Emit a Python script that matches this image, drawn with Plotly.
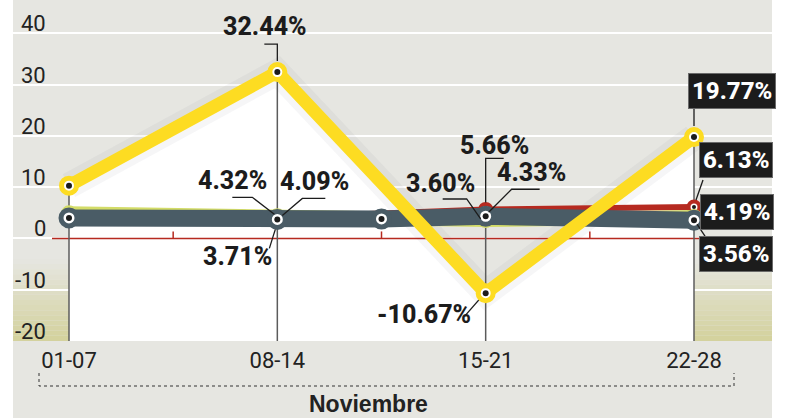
import plotly.graph_objects as go

# ---------------- data ----------------
categories = ["01-07", "08-14", "15-21", "22-28"]
axis_title = "Noviembre"

yellow_vals = [10.3, 32.44, -10.67, 19.77]
red_vals = [None, 4.09, 5.66, 6.13]
green_vals = [4.9, 4.32, 3.60, 4.19]
dark_x = [0, 1, 1.5, 2, 3]
dark_vals = [4.0, 3.71, 3.8, 4.33, 3.56]

y_ticks = [40, 30, 20, 10, 0, -10, -20]

label_yellow = ["", "32.44%", "-10.67%", "19.77%"]
label_red = ["", "4.09%", "5.66%", "6.13%"]
label_green = ["", "4.32%", "3.60%", "4.19%"]
label_dark = ["", "3.71%", "4.33%", "3.56%"]

# ---------------- layout constants ----------------
W, H = 787, 418
ML, MR, MT, MB = 13, 15, 0, 77
PW, PH = W - ML - MR, H - MT - MB
CAT_L, CAT_R = 56, 78
UNIT = (PW - CAT_L - CAT_R) / (len(categories) - 1)
XMIN, XMAX = -CAT_L / UNIT, (len(categories) - 1) + CAT_R / UNIT
YMIN, YMAX = -20, 46.5
PXY = PH / (YMAX - YMIN)

def px_x(px):
    return XMIN + (px - ML) / UNIT

def paper_x(px):
    return (px - ML) / PW

def paper_y(py):
    return (MT + PH - py) / PH

BG = "#e6e6e1"
YELLOW = "#fddc22"
GREEN = "#d3dc68"
DARK = "#4a5c66"
RED = "#b62a20"
INK = "#1c1c1c"
COND = "Roboto, sans-serif"
SANS = "Liberation Sans, Arial, sans-serif"

cat_x = list(range(len(categories)))
fig = go.Figure()

fig.add_trace(go.Scatter(x=cat_x + [cat_x[-1], cat_x[0]],
                         y=yellow_vals + [YMIN, YMIN],
                         fill="toself", fillcolor="white", mode="lines",
                         line=dict(width=0), hoverinfo="skip"))
fig.add_trace(go.Scatter(x=cat_x, y=yellow_vals, mode="lines",
                         line=dict(color="rgba(70,70,95,0.05)", width=26),
                         hoverinfo="skip"))

fig.add_trace(go.Scatter(x=[px_x(52), XMAX], y=[0, 0], mode="lines",
                         line=dict(color=RED, width=1.5), hoverinfo="skip"))
tx, ty = [], []
for i in range(len(categories) - 1):
    m = i + 0.5
    tx += [m, m, None]
    ty += [0, 7 / PXY, None]
fig.add_trace(go.Scatter(x=tx, y=ty, mode="lines",
                         line=dict(color=RED, width=1.5), hoverinfo="skip"))

vx, vy = [], []
for i in cat_x:
    top = max(v for v in (yellow_vals[i], red_vals[i], green_vals[i]) if v is not None)
    vx += [i, i, None]
    vy += [YMIN, top, None]
fig.add_trace(go.Scatter(x=vx, y=vy, mode="lines",
                         line=dict(color="#5c5c5c", width=1.5), hoverinfo="skip"))

def series(x, y, color, width, msize, mline, dot):
    fig.add_trace(go.Scatter(x=x, y=y, mode="lines+markers",
                             line=dict(color=color, width=width),
                             marker=dict(size=msize, color="white",
                                         line=dict(color=color, width=mline)),
                             hoverinfo="skip"))
    fig.add_trace(go.Scatter(x=x, y=y, mode="markers",
                             marker=dict(size=dot, color=INK),
                             hoverinfo="skip"))

series(cat_x, red_vals, RED, 6, 11, 4, 4)
series(cat_x, green_vals, GREEN, 14, 12, 4, 4)
series(dark_x, dark_vals, DARK, 17, 16, 5, 6)
series(cat_x, yellow_vals, YELLOW, 13, 15, 5, 6)

label_style = {
    ("y", 1): (-12, 46, [(0, 11), (0, 28), (-13, 28)], False),
    ("y", 2): (-62, -21, [(-7, -7), (-21, -23)], False),
    ("y", 3): (38, 46, [(0, 11), (0, 28)], True),
    ("g", 1): (-45, 36, [(-3, 2), (-25, 19), (-45, 19)], False),
    ("r", 1): (37, 36, [(5, 2), (25, 19), (48, 19)], False),
    ("d", 1): (-40, -37, [(-2, -10), (-8, -29)], False),
    ("g", 2): (-45, 36, [(-5, 1), (-19, 21), (-43, 21)], False),
    ("r", 2): (9, 64, [(0, 7), (0, 51), (18, 51)], False),
    ("d", 2): (46, 44, [(3, 4), (26, 27), (54, 27)], False),
    ("r", 3): (42, 47, [(2, 7), (9, 27)], True),
    ("g", 3): (43, 5, [], True),
    ("d", 3): (42, -34, [(3, -4), (11, -16)], True),
}
label_sets = {"y": (yellow_vals, label_yellow), "r": (red_vals, label_red),
              "g": (green_vals, label_green),
              "d": ([dark_vals[dark_x.index(i)] for i in cat_x], label_dark)}

shapes = []
annotations = []
for (key, i), (dx, dy, path, boxed) in label_style.items():
    vals, texts = label_sets[key]
    v, t = vals[i], texts[i]
    if v is None or not t:
        continue
    if path:
        d = "M " + " L ".join(f"{px},{py}" for px, py in path)
        shapes.append(dict(type="path", xref="x", yref="y", xsizemode="pixel",
                           ysizemode="pixel", xanchor=i, yanchor=v, path=d,
                           line=dict(color=INK, width=1.3)))
    if boxed:
        annotations.append(dict(x=i, y=v, xref="x", yref="y", text=t,
                                showarrow=False, xshift=dx, yshift=dy,
                                bgcolor=INK, bordercolor="#6a6a6a", borderwidth=1,
                                borderpad=3,
                                font=dict(family=COND, size=24, color="white",
                                          weight=800)))
    else:
        annotations.append(dict(x=i, y=v, xref="x", yref="y", text=t,
                                showarrow=False, xshift=dx, yshift=dy,
                                font=dict(family=COND, size=25, color=INK,
                                          weight=800)))

for t in y_ticks:
    annotations.append(dict(x=paper_x(48), y=t, xref="paper", yref="y",
                            text=str(t), showarrow=False, xanchor="right",
                            yanchor="bottom", yshift=-5,
                            font=dict(family=COND, size=22, color="#222")))

annotations.append(dict(x=paper_x(368), y=paper_y(404), xref="paper", yref="paper",
                        text=f"<b>{axis_title}</b>", showarrow=False,
                        xanchor="center", yanchor="middle",
                        font=dict(family=SANS, size=23, color="#222")))

shapes.append(dict(type="rect", xref="paper", yref="paper", x0=0, x1=1,
                   y0=paper_y(H), y1=0, fillcolor=BG, line=dict(width=0),
                   layer="below"))
N = 16
g_top, g_bot = -4.0, YMIN
c0, c1 = (230, 230, 225), (211, 209, 156)
for k in range(N):
    f = (k + 0.5) / N
    col = tuple(round(c0[j] + (c1[j] - c0[j]) * f) for j in range(3))
    ya = g_top + (g_bot - g_top) * k / N
    yb = g_top + (g_bot - g_top) * (k + 1) / N
    for xa, xb in ((XMIN, 0), (len(categories) - 1, XMAX)):
        shapes.append(dict(type="rect", xref="x", yref="y", x0=xa, x1=xb,
                           y0=ya, y1=yb, fillcolor=f"rgb{col}",
                           line=dict(width=0), layer="below"))
shapes.append(dict(type="path", xref="paper", yref="paper",
                   path=(f"M {paper_x(39)},{paper_y(373)} L {paper_x(39)},{paper_y(386)} "
                         f"L {paper_x(734)},{paper_y(386)} L {paper_x(734)},{paper_y(373)}"),
                   line=dict(color="#333", width=1, dash="dot")))

fig.update_layout(
    width=W, height=H, autosize=False,
    margin=dict(l=ML, r=MR, t=MT, b=MB),
    paper_bgcolor="white", plot_bgcolor=BG,
    showlegend=False,
    shapes=shapes, annotations=annotations,
    xaxis=dict(range=[XMIN, XMAX], tickvals=cat_x, ticktext=categories,
               showgrid=False, zeroline=False, showline=False, ticks="",
               tickfont=dict(family=COND, size=22, color="#222"),
               ticklabelstandoff=4, fixedrange=True),
    yaxis=dict(range=[YMIN, YMAX], tick0=0, dtick=10, showticklabels=False,
               showgrid=True, gridcolor="white", gridwidth=2, zeroline=False,
               showline=False, ticks="", fixedrange=True),
)

fig.write_html("out.html")
